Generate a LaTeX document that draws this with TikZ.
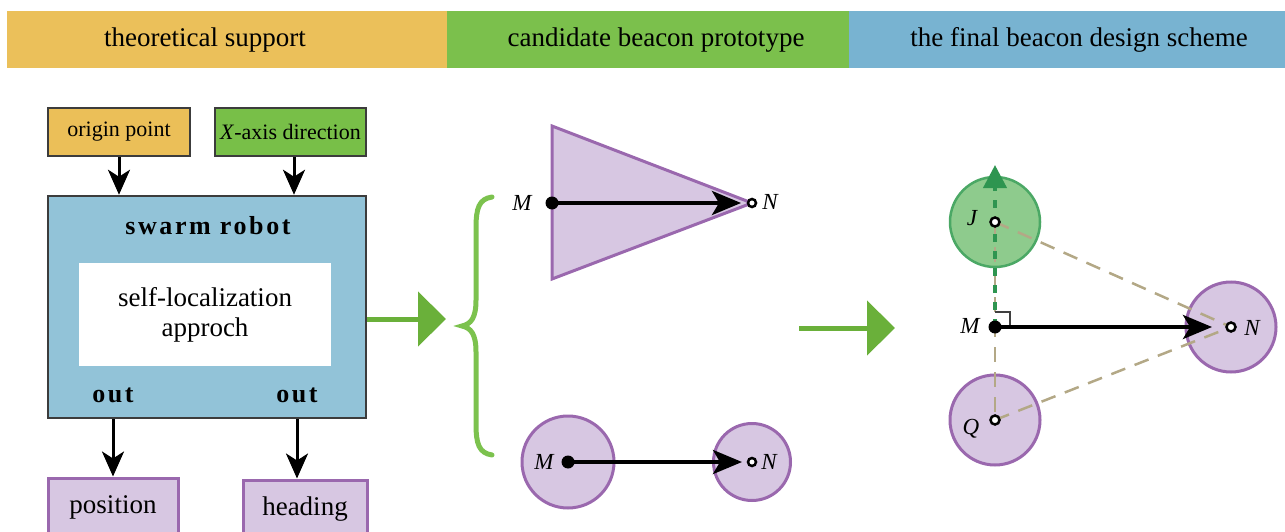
\documentclass[tikz,border=0pt]{standalone}
\usepackage{fontspec}
\setmainfont{Liberation Serif}
\usetikzlibrary{arrows.meta}
\definecolor{hdrorange}{HTML}{EBC05A}
\definecolor{hdrgreen}{HTML}{7BC04C}
\definecolor{hdrblue}{HTML}{78B3D1}
\definecolor{boxorange}{HTML}{EBBF58}
\definecolor{boxgreen}{HTML}{78BF48}
\definecolor{swarmblue}{HTML}{92C3D8}
\definecolor{boxborder}{HTML}{3C3C3C}
\definecolor{purpfill}{HTML}{D7C7E2}
\definecolor{purpline}{HTML}{9A68AE}
\definecolor{arrowgreen}{HTML}{6AB03A}
\definecolor{bracegreen}{HTML}{7CC24E}
\definecolor{jfill}{HTML}{8ECB8D}
\definecolor{jline}{HTML}{4BA865}
\definecolor{dashgreen}{HTML}{2E9550}
\definecolor{tan}{HTML}{B3A886}
\begin{document}
\begin{tikzpicture}[x=1pt,y=-1pt,
  hdrtext/.style={font=\fontsize{27}{32}\selectfont},
  inbox/.style={draw=boxborder, line width=2.5pt, minimum height=48pt, inner sep=0pt, font=\fontsize{22}{26}\selectfont},
  outbox/.style={draw=purpline, fill=purpfill, line width=3pt, inner sep=0pt, font=\fontsize{27}{32}\selectfont},
  blackarrow/.style={line width=3pt, -{Stealth[length=25pt,width=22pt,inset=7pt]}},
  bigarrow/.style={line width=4pt, -{Stealth[length=29pt,width=24pt,inset=7pt]}},
  greenarrow/.style={draw=arrowgreen, line width=5pt, -{Triangle[length=28pt,width=54pt]}, color=arrowgreen},
  purpshape/.style={draw=purpline, fill=purpfill, line width=3pt},
  beacon/.style={circle, draw=purpline, fill=purpfill, line width=3pt, inner sep=0pt},
  lbl/.style={font=\fontsize{23}{27}\selectfont\itshape, inner sep=0pt},
  opendot/.style={draw=black, fill=white, line width=2.5pt},
  tandash/.style={draw=tan, line width=2.5pt, dash pattern=on 15pt off 10pt},
  greendash/.style={draw=dashgreen, line width=4pt, dash pattern=on 8pt off 9pt, -{Triangle[length=23pt,width=23pt]}, color=dashgreen},
  boldlbl/.style={font=\fontsize{26}{30}\selectfont\bfseries\addfontfeature{LetterSpace=10}}
]
\useasboundingbox (0,0) rectangle (1285,532);
% header bar
\fill[hdrorange] (7,11) rectangle (447,68);
\fill[hdrgreen] (447,11) rectangle (849,68);
\fill[hdrblue] (849,11) rectangle (1285,68);
\node[hdrtext] (t1) at (205,40) {theoretical support};
\node[hdrtext] (t2) at (656,40) {candidate beacon prototype};
\node[hdrtext] (t3) at (1079,40) {the final beacon design scheme};

% left block
\node[inbox, fill=boxorange, minimum width=142pt] (origin) at (119,132) {origin point};
\node[inbox, fill=boxgreen, minimum width=151pt] (xaxis) at (290.5,132) {\textit{X}-axis direction};
\node[draw=boxborder, fill=swarmblue, line width=2.5pt, minimum width=318pt, minimum height=222pt, inner sep=0pt] (swarm) at (207,307) {};
\node[boldlbl] (title) at (208,226) {swarm robot};
\node[fill=white, minimum width=252pt, minimum height=103pt, inner sep=0pt, align=center, font=\fontsize{27}{32}\selectfont] (inner) at (205,314.5) {self-localization\\[-2pt]approch};
\node[boldlbl] (out1) at (113,395) {out};
\node[boldlbl] (out2) at (297,395) {out};
\node[outbox, minimum width=130pt, minimum height=58pt] (position) at (113,507) {position};
\node[outbox, minimum width=124pt, minimum height=58pt] (heading) at (305,509) {heading};

\draw[blackarrow] (origin.south) -- (origin.south |- swarm.north);
\draw[blackarrow] (xaxis.south -| 294,0) -- (swarm.north -| 294,0);
\draw[blackarrow] (swarm.south -| out1) -- (position.north -| out1);
\draw[blackarrow] (swarm.south -| out2) -- (heading.north -| out2);

\coordinate (g1) at (446,319);
\draw[greenarrow] (swarm.east |- g1) -- (g1);

% brace
\draw[bracegreen, line width=5pt, line cap=round]
  (492,197) .. controls (479,199) and (476,208) .. (476,228)
  -- (476,300) .. controls (476,318) and (471,324) .. (462,326)
  .. controls (471,328) and (476,334) .. (476,352)
  -- (476,424) .. controls (476,444) and (479,453) .. (492,455);

% triangle prototype
\coordinate (M1) at (552,203);
\coordinate (N1) at (752,203);
\draw[purpshape, line join=miter] (552,126) -- (552,279) -- (N1) -- cycle;
\draw[bigarrow, shorten >=11pt] (M1) -- (N1);
\fill (M1) circle (6.5pt);
\draw[opendot] (N1) circle (4pt);
\node[lbl] (lM1) at (522,203) {M};
\node[lbl] (lN1) at (770,202) {N};

% circle prototype
\node[beacon, minimum size=92pt] (cM2) at (568,462) {};
\node[beacon, minimum size=77pt] (cN2) at (752,462) {};
\draw[bigarrow, shorten >=10pt] (cM2.center) -- (cN2.center);
\fill (cM2.center) circle (6.5pt);
\draw[opendot] (cN2.center) circle (4pt);
\node[lbl] (lM2) at (544,462) {M};
\node[lbl] (lN2) at (769,462) {N};

% second green arrow
\coordinate (g2s) at (799,328);
\coordinate (g2) at (895,328);
\draw[greenarrow] (g2s) -- (g2);

% final scheme
\node[circle, draw=jline, fill=jfill, line width=2.5pt, inner sep=0pt, minimum size=90pt] (cJ) at (995,222) {};
\node[beacon, minimum size=90pt] (cN) at (1231,327) {};
\node[beacon, minimum size=90pt] (cQ) at (995,420) {};
\coordinate (M) at (995,327);
\coordinate (Jtop) at (995,165);
\draw[tandash] (cJ.center) -- (cN.center);
\draw[tandash] (cQ.center) -- (cN.center);
\draw[tandash] (cJ.center) -- (cQ.center);
\draw[greendash] (M) -- (Jtop);
\draw[line width=1.5pt, black!75] (M) ++(0,-15) -- ++(15,0) -- ++(0,15);
\draw[bigarrow, shorten >=19pt] (M) -- (cN.center);
\fill (M) circle (6.5pt);
\draw[opendot] (cJ.center) circle (4.5pt);
\draw[opendot] (cN.center) circle (4.5pt);
\draw[opendot] (cQ.center) circle (4.5pt);
\node[lbl] (lJ) at (972,218) {J};
\node[lbl] (lM) at (970,326) {M};
\node[lbl] (lN) at (1252,328) {N};
\node[lbl] (lQ) at (971,429) {Q};
\end{tikzpicture}
\end{document}
